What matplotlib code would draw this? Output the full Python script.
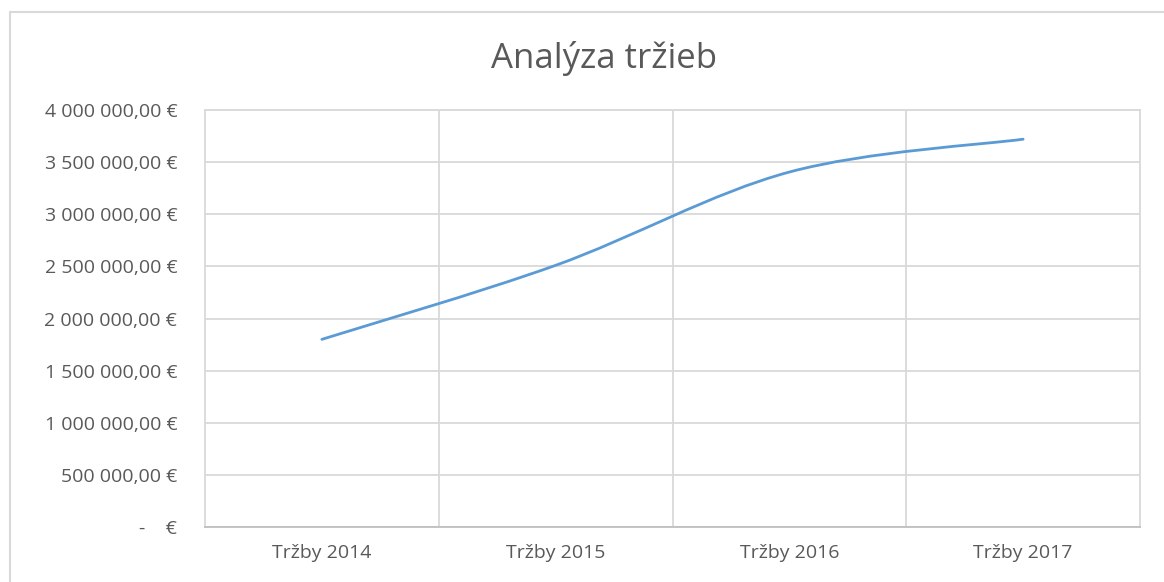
import matplotlib
matplotlib.use("Agg")
import matplotlib.pyplot as plt
from matplotlib.path import Path
from matplotlib.patches import PathPatch, Rectangle
from matplotlib.ticker import FuncFormatter, FixedLocator

plt.rcParams["font.family"] = ["Open Sans", "DejaVu Sans"]

categories = ["Tržby 2014", "Tržby 2015", "Tržby 2016", "Tržby 2017"]
sales = [1_800_000, 2_510_000, 3_405_000, 3_720_000]
y_ticks = [0, 500_000, 1_000_000, 1_500_000, 2_000_000, 2_500_000,
           3_000_000, 3_500_000, 4_000_000]

TEXT = "#595959"
GRID = "#d9d9d9"
LINE = "#5b9bd5"


def euro(v, _pos=None):
    if v == 0:
        return "-    €"
    s = f"{v:,.2f}".replace(",", " ").replace(".", ",")
    return s + " €"


def smooth_path(xs, ys):
    # Excel-style smoothed line: cubic Bezier segments, Catmull-Rom control points
    pts = list(zip(xs, ys))
    verts = [pts[0]]
    codes = [Path.MOVETO]
    n = len(pts)
    for i in range(n - 1):
        p0 = pts[i - 1] if i > 0 else pts[i]
        p1 = pts[i]
        p2 = pts[i + 1]
        p3 = pts[i + 2] if i + 2 < n else pts[i + 1]
        c1 = (p1[0] + (p2[0] - p0[0]) / 6, p1[1] + (p2[1] - p0[1]) / 6)
        c2 = (p2[0] - (p3[0] - p1[0]) / 6, p2[1] - (p3[1] - p1[1]) / 6)
        verts += [c1, c2, p2]
        codes += [Path.CURVE4] * 3
    return Path(verts, codes)


fig = plt.figure(figsize=(11.64, 5.82), dpi=100)
W, H = 1164, 582

# chart area frame
fig.patches.append(Rectangle((10 / W, -0.1), 1.2, (582 - 12) / H + 0.1,
                             transform=fig.transFigure, fill=False,
                             edgecolor="#d9d9d9", linewidth=1.5))

ax = fig.add_axes([205 / W, 55 / H, (1140 - 205) / W, (527 - 110) / H])

x = list(range(len(categories)))
ax.add_patch(PathPatch(smooth_path(x, sales), facecolor="none",
                       edgecolor=LINE, linewidth=2.0, capstyle="round",
                       zorder=3))

ax.set_xlim(-0.5, len(categories) - 0.5)
ax.set_ylim(0, 4_000_000)
ax.set_yticks(y_ticks)
ax.yaxis.set_major_formatter(FuncFormatter(euro))
ax.set_xticks(x)
ax.set_xticklabels(categories)
ax.xaxis.set_minor_locator(FixedLocator([i + 0.5 for i in x[:-1]]))

ax.grid(True, axis="y", which="major", color=GRID, linewidth=1.3)
ax.grid(True, axis="x", which="minor", color=GRID, linewidth=1.3)
ax.grid(False, axis="x", which="major")
ax.set_axisbelow(True)

for side in ["top", "right", "left"]:
    ax.spines[side].set_color(GRID)
    ax.spines[side].set_linewidth(1.3)
ax.spines["bottom"].set_color("#bfbfbf")
ax.spines["bottom"].set_linewidth(1.3)

ax.tick_params(axis="both", which="both", length=0, labelcolor=TEXT,
               labelsize=14)
ax.tick_params(axis="y", pad=20)
ax.tick_params(axis="x", pad=12)

fig.text(604 / W, 1 - 58 / H, "Analýza tržieb", ha="center", va="center",
         fontsize=25, color=TEXT)

fig.savefig("out.png", dpi=100)
